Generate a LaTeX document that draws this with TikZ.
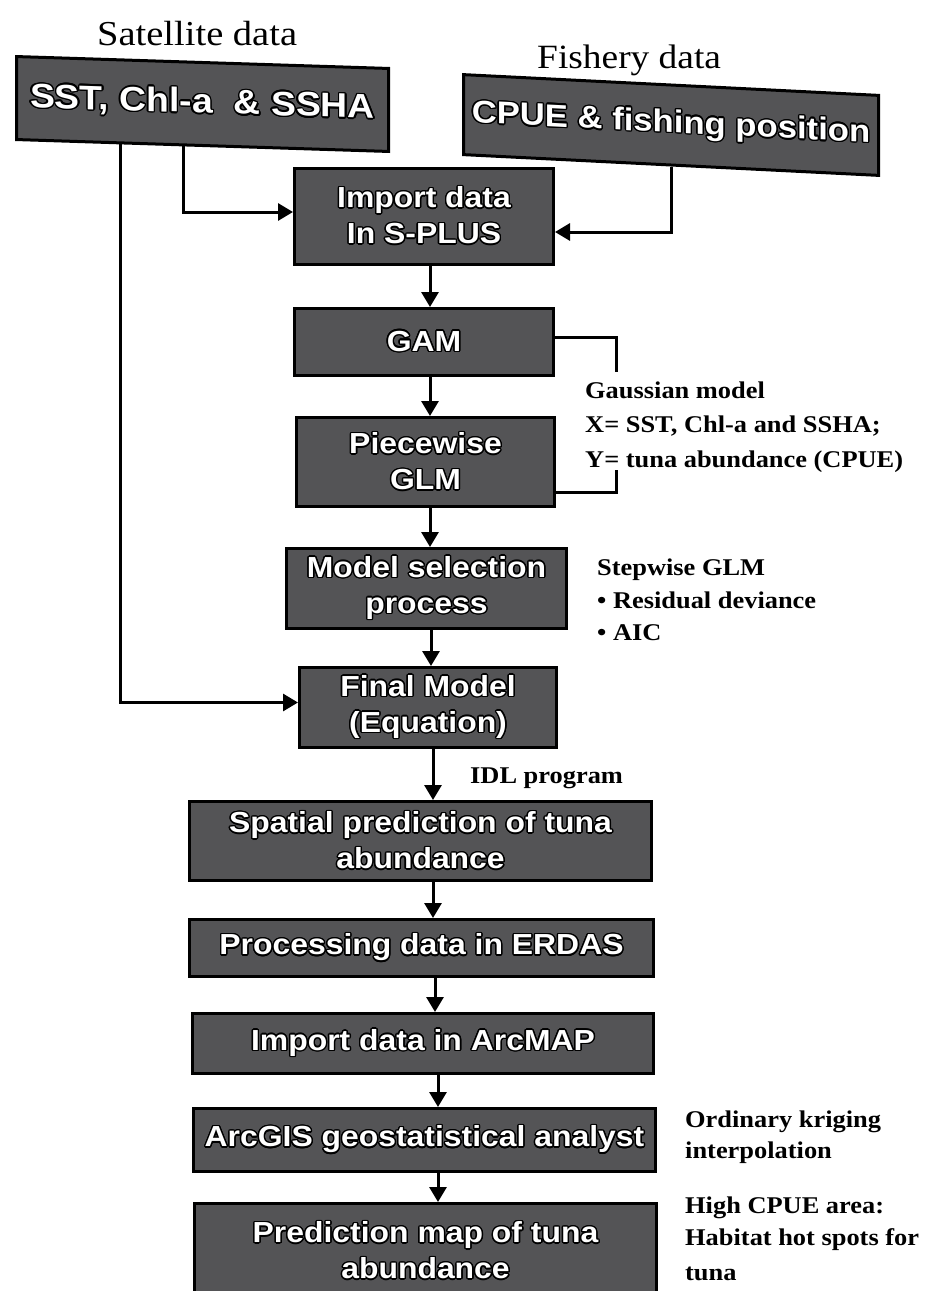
\documentclass[tikz,border=0pt]{standalone}
\usepackage{fontspec}
\usepackage{contour}
\usetikzlibrary{arrows.meta,calc}
\newfontfamily\boxfont{Liberation Sans}[FakeStretch=1.1]
\newfontfamily\labfont{Liberation Serif}[FakeStretch=1.1]
\definecolor{boxgray}{RGB}{84,84,86}
\contourlength{1.4pt}
\contournumber{16}
% white caption with a black rim
\newcommand{\wt}[1]{\contour{black}{#1}}
\begin{document}
\begin{tikzpicture}[x=1pt,y=-1pt,
  box/.style={draw=black, line width=3pt, fill=boxgray, text=white, align=center,
    inner sep=0pt, font=\boxfont\bfseries\fontsize{29}{36}\selectfont},
  conn/.style={line width=3pt},
  arr/.style={line width=3pt, -{Triangle[length=15pt,width=17pt]}},
  lab/.style={font=\labfont\bfseries\fontsize{24}{30}\selectfont, anchor=base west, inner sep=0pt},
  head/.style={font=\labfont\fontsize{35}{40}\selectfont, anchor=base west, inner sep=0pt}
]
\useasboundingbox (0,0) rectangle (928,1291);
\clip (0,0) rectangle (928,1291);
\fill[white] (0,0) rectangle (928,1291);

% data sources (slightly sheared boxes)
\begin{scope}[shift={(202.5,104)}, yslant=-0.032]
  \node[box, transform shape, minimum width=372pt, minimum height=83pt,
    font=\boxfont\bfseries\fontsize{34}{40}\selectfont] (b1) at (0,0) {\wt{SST, Chl-a\ \ \& SSHA}};
\end{scope}
\begin{scope}[shift={(671,125)}, yslant=-0.05]
  \node[box, transform shape, minimum width=415pt, minimum height=80pt,
    font=\boxfont\bfseries\fontsize{31.5}{38}\selectfont] (b2) at (0,0) {\wt{CPUE \& fishing position}};
\end{scope}
\node[head] (sat) at (97,45) {Satellite data};
\node[head, font=\labfont\fontsize{34}{40}\selectfont] (fish) at (537,68) {Fishery data};

% processing chain
\node[box, minimum width=259pt, minimum height=96pt] (imp) at (424,216) {\wt{Import data}\\\wt{In S-PLUS}};
\node[box, minimum width=259pt, minimum height=67pt] (gam) at (424,342) {\wt{GAM}};
\node[box, minimum width=258pt, minimum height=89pt] (glm) at (425.5,462) {\wt{Piecewise}\\\wt{GLM}};
\node[box, minimum width=280pt, minimum height=80pt] (sel) at (426.5,588.5) {\wt{Model selection}\\\wt{process}};
\node[box, minimum width=257pt, minimum height=80pt] (fin) at (428,707.5) {\wt{Final Model}\\\wt{(Equation)}};
\node[box, minimum width=462pt, minimum height=79pt] (sp) at (420.5,841) {\wt{Spatial prediction of tuna}\\\wt{abundance}};
\node[box, minimum width=464pt, minimum height=57pt] (erd) at (421.5,948) {\wt{Processing data in ERDAS}};
\node[box, minimum width=461pt, minimum height=60pt] (arc) at (423,1043.5) {\wt{Import data in ArcMAP}};
\node[box, minimum width=462pt, minimum height=63pt] (gis) at (424.5,1140) {\wt{ArcGIS geostatistical analyst}};
\node[box, minimum width=462pt, minimum height=95pt] (pred) at (425.5,1251) {\wt{Prediction map of tuna}\\\wt{abundance}};

% connectors from the data sources
\coordinate (b1a) at ($(b1.south west)!0.448!(b1.south east)$);
\coordinate (b1b) at ($(b1.south west)!0.28!(b1.south east)$);
\draw[arr] (b1a) |- ([yshift=4pt]imp.west);
\draw[arr] (b2.south) |- ([yshift=-16pt]imp.east);
\draw[arr] (b1b) |- ([yshift=5pt]fin.west);

% main chain arrows
\draw[arr] ([xshift=6pt]imp.south) -- ([xshift=6pt]imp.south |- gam.north);
\draw[arr] ([xshift=6pt]gam.south) -- ([xshift=6pt]gam.south |- glm.north);
\draw[arr] ([xshift=4.5pt]glm.south) -- ([xshift=4.5pt]glm.south |- sel.north);
\draw[arr] ([xshift=4.5pt]sel.south) -- ([xshift=4.5pt]sel.south |- fin.north);
\draw[arr] ([xshift=5pt]fin.south) -- ([xshift=5pt]fin.south |- sp.north);
\draw[arr] ([xshift=12.5pt]sp.south) -- ([xshift=12.5pt]sp.south |- erd.north);
\draw[arr] ([xshift=13.5pt]erd.south) -- ([xshift=13.5pt]erd.south |- arc.north);
\draw[arr] ([xshift=15pt]arc.south) -- ([xshift=15pt]arc.south |- gis.north);
\draw[arr] ([xshift=13.5pt]gis.south) -- ([xshift=13.5pt]gis.south |- pred.north);

% bracket around the GAM / GLM pair
\coordinate (bk1) at (616,372);
\coordinate (bk2) at (616,470);
\draw[conn] ([yshift=5pt]gam.east) -| (bk1);
\draw[conn] ([yshift=-30pt]glm.east) -| (bk2);

% side notes
\node[lab] (g1) at (585,398) {Gaussian model};
\node[lab] (g2) at (585,432) {X= SST, Chl-a and SSHA;};
\node[lab] (g3) at (585,467) {Y= tuna abundance (CPUE)};
\node[lab] (s1) at (597,575) {Stepwise GLM};
\node[lab] (s2) at (597,608) {• Residual deviance};
\node[lab] (s3) at (597,640) {• AIC};
\node[lab] (idl) at (470,783) {IDL program};
\node[lab] (k1) at (685,1127) {Ordinary kriging};
\node[lab] (k2) at (685,1158) {interpolation};
\node[lab] (h1) at (685,1213) {High CPUE area:};
\node[lab] (h2) at (685,1245) {Habitat hot spots for};
\node[lab] (h3) at (685,1280) {tuna};
\end{tikzpicture}
\end{document}
